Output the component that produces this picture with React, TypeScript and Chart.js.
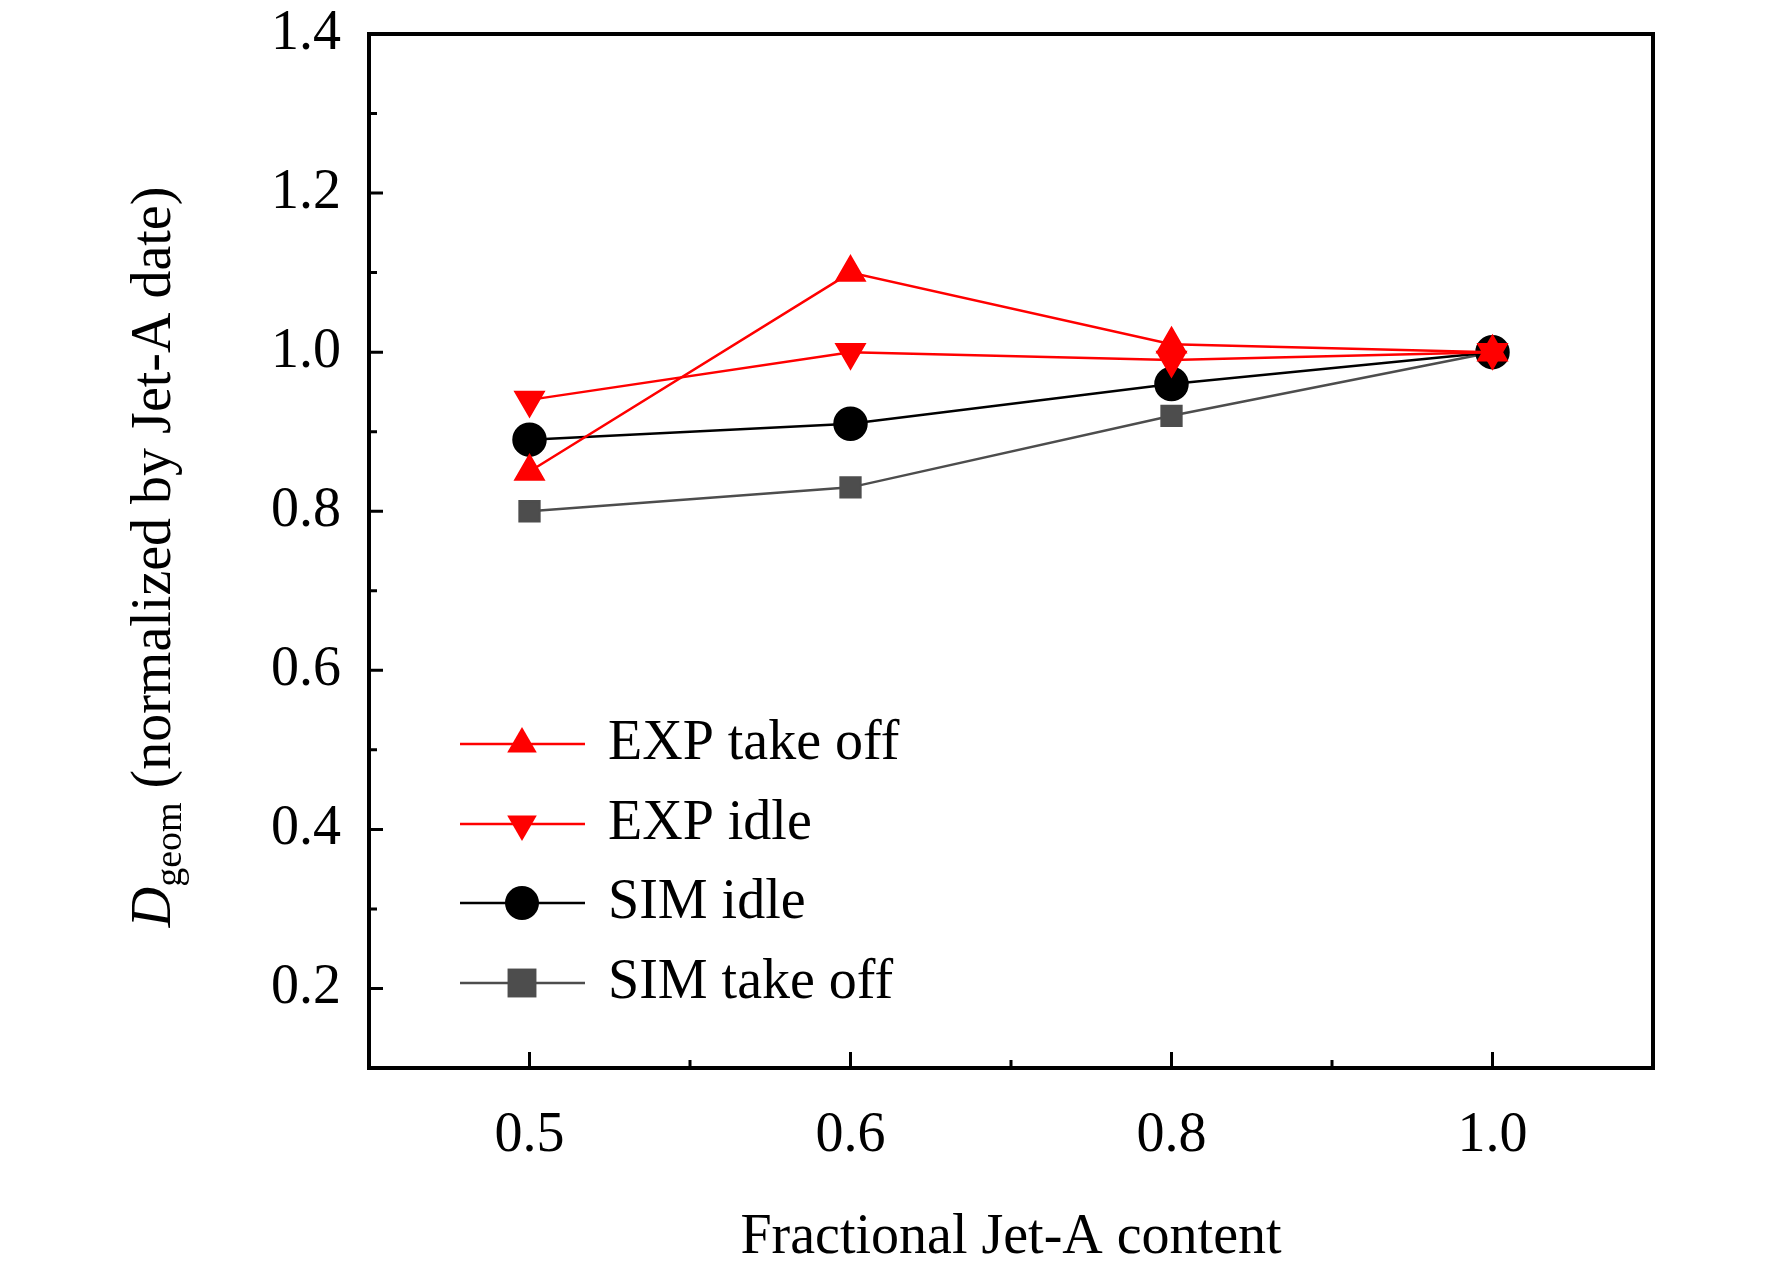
import React, { useEffect, useRef } from "react";
import { Chart, registerables } from "chart.js";
Chart.register(...registerables);

const categories = ["0.5", "0.6", "0.8", "1.0"];
const expTakeOff = [0.85, 1.10, 1.01, 1.00];
const expIdle = [0.94, 1.00, 0.99, 1.00];
const simIdle = [0.89, 0.91, 0.96, 1.00];
const simTakeOff = [0.80, 0.83, 0.92, 1.00];
const yTicks = [0.2, 0.4, 0.6, 0.8, 1.0, 1.2, 1.4];
const yMinor = [0.1, 0.3, 0.5, 0.7, 0.9, 1.1, 1.3];
const xTitle = "Fractional Jet-A content";
const yTitleRest = " (normalized by Jet-A date)";

const FONT = '"Liberation Serif", "Times New Roman", serif';

const series = [
  { label: "EXP take off", data: expTakeOff, color: "#ff0000", style: "triangle", rot: 0 },
  { label: "EXP idle", data: expIdle, color: "#ff0000", style: "triangle", rot: 180 },
  { label: "SIM idle", data: simIdle, color: "#000000", style: "circle", rot: 0 },
  { label: "SIM take off", data: simTakeOff, color: "#4d4d4d", style: "rect", rot: 0 },
];

function marker(ctx: CanvasRenderingContext2D, style: string, rot: number, x: number, y: number, r: number) {
  ctx.beginPath();
  if (style === "circle") {
    ctx.arc(x, y, r, 0, Math.PI * 2);
  } else if (style === "rect") {
    const h = r * 0.85;
    ctx.rect(x - h, y - h, 2 * h, 2 * h);
  } else {
    const s = rot ? -1 : 1;
    ctx.moveTo(x, y - s * r);
    ctx.lineTo(x + r * 0.87, y + s * r * 0.5);
    ctx.lineTo(x - r * 0.87, y + s * r * 0.5);
    ctx.closePath();
  }
  ctx.fill();
}

const decor = {
  id: "decor",
  afterDraw(chart: any) {
    const ctx = chart.ctx;
    const { left, right, top, bottom } = chart.chartArea;
    const xs = chart.scales.x, ys = chart.scales.y;
    ctx.save();
    ctx.strokeStyle = "#000";
    ctx.lineWidth = 4;
    ctx.strokeRect(left, top, right - left, bottom - top);
    ctx.lineWidth = 3;
    ctx.beginPath();
    yTicks.forEach((v) => { const y = ys.getPixelForValue(v); ctx.moveTo(left, y); ctx.lineTo(left + 14, y); });
    yMinor.forEach((v) => { const y = ys.getPixelForValue(v); ctx.moveTo(left, y); ctx.lineTo(left + 8, y); });
    categories.forEach((_, i) => {
      const x = xs.getPixelForValue(i); ctx.moveTo(x, bottom); ctx.lineTo(x, bottom - 16);
      if (i < categories.length - 1) {
        const m = (x + xs.getPixelForValue(i + 1)) / 2; ctx.moveTo(m, bottom); ctx.lineTo(m, bottom - 8);
      }
    });
    ctx.stroke();
    ctx.fillStyle = "#000";
    ctx.font = `56px ${FONT}`;
    ctx.textAlign = "right"; ctx.textBaseline = "middle";
    yTicks.forEach((v) => ctx.fillText(v.toFixed(1), left - 28, ys.getPixelForValue(v)));
    ctx.textAlign = "center"; ctx.textBaseline = "middle";
    categories.forEach((c, i) => ctx.fillText(c, xs.getPixelForValue(i), 1136));
    ctx.fillText(xTitle, (left + right) / 2, 1238);
    ctx.save();
    ctx.translate(155, 557);
    ctx.rotate(-Math.PI / 2);
    ctx.textAlign = "left"; ctx.textBaseline = "middle";
    ctx.font = `italic 56px ${FONT}`;
    const dW = ctx.measureText("D").width;
    ctx.font = `38px ${FONT}`;
    const gW = ctx.measureText("geom").width;
    ctx.font = `56px ${FONT}`;
    const rW = ctx.measureText(yTitleRest).width;
    const x0 = -(dW + gW + rW) / 2;
    ctx.font = `italic 56px ${FONT}`;
    ctx.fillText("D", x0, 0);
    ctx.font = `38px ${FONT}`;
    ctx.fillText("geom", x0 + dW, 16);
    ctx.font = `56px ${FONT}`;
    ctx.fillText(yTitleRest, x0 + dW + gW, 0);
    ctx.restore();
    const rows = [744, 824, 903, 983];
    series.forEach((s, i) => {
      const y = rows[i];
      ctx.strokeStyle = s.color; ctx.lineWidth = 2.5;
      ctx.beginPath(); ctx.moveTo(460, y); ctx.lineTo(585, y); ctx.stroke();
      ctx.fillStyle = s.color;
      marker(ctx, s.style, s.rot, 522, y, 17);
      ctx.fillStyle = "#000";
      ctx.font = `56px ${FONT}`;
      ctx.textAlign = "left"; ctx.textBaseline = "middle";
      ctx.fillText(s.label, 608, y);
    });
    ctx.restore();
  },
};

export default function App() {
  const ref = useRef<HTMLCanvasElement>(null);
  useEffect(() => {
    document.body.style.margin = "0";
    const chart = new Chart(ref.current!, {
      type: "line",
      data: {
        labels: categories,
        datasets: series.map((s) => ({
          label: s.label,
          data: s.data,
          borderColor: s.color,
          backgroundColor: s.color,
          pointBackgroundColor: s.color,
          pointBorderColor: s.color,
          pointStyle: s.style as any,
          pointRotation: s.rot,
          pointRadius: s.style === "rect" ? 14 : 16,
          borderWidth: 2.5,
        })),
      },
      options: {
        animation: false,
        responsive: false,
        layout: { padding: { left: 361, top: 34, right: 119, bottom: 198 } },
        plugins: { legend: { display: false }, tooltip: { enabled: false } },
        scales: {
          x: { type: "category", offset: true, grid: { display: false }, ticks: { display: false }, border: { display: false } },
          y: { min: 0.1, max: 1.4, grid: { display: false }, ticks: { display: false }, border: { display: false } },
        },
      },
      plugins: [decor],
    });
    return () => chart.destroy();
  }, []);
  return <canvas ref={ref} width={1772} height={1274} style={{ display: "block", width: 1772, height: 1274 }} />;
}
